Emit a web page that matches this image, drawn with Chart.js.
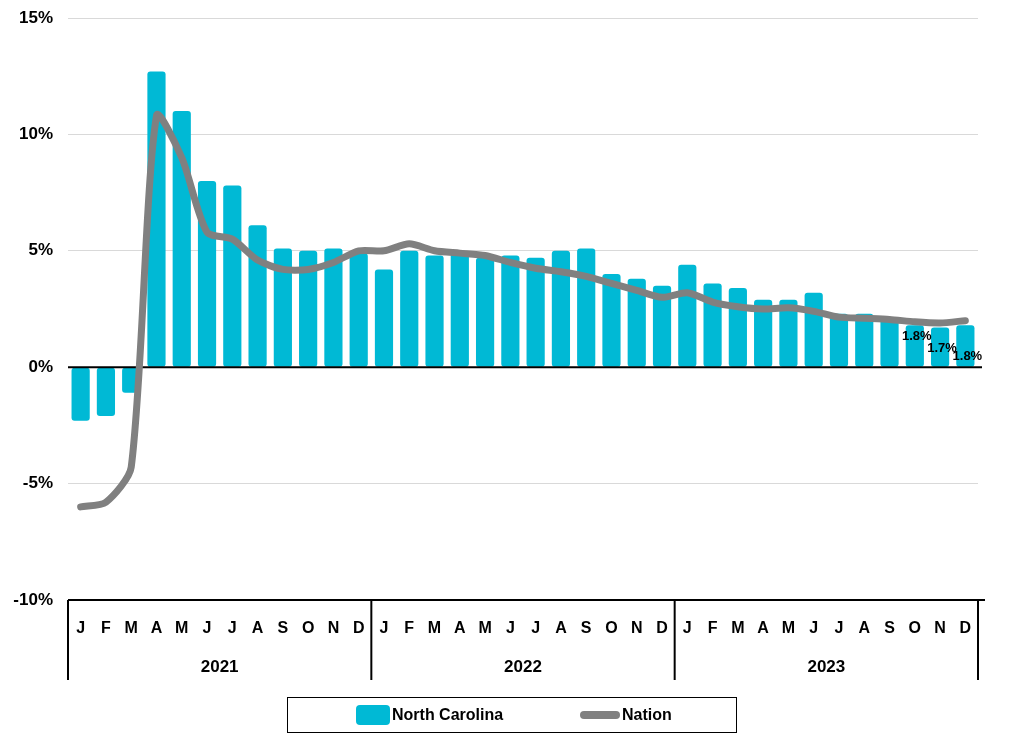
<!DOCTYPE html>
<html>
<head>
<meta charset="utf-8">
<script src="https://cdn.jsdelivr.net/npm/chart.js@4.4.1/dist/chart.umd.min.js"></script>
<style>
  html, body { margin: 0; padding: 0; background: #fff; }
  #wrap { position: relative; width: 1024px; height: 743px; }
  #legend { position: absolute; left: 287px; top: 697px; width: 448px; height: 34px;
            border: 1.5px solid #000; font-family: 'Liberation Sans Narrow', 'Liberation Sans', sans-serif;
            font-weight: bold; font-size: 16px; color: #000; }
  .item { position: absolute; top: 0; height: 34px; display: flex; align-items: center; }
  .sw1 { width: 34px; height: 20px; background: #00B9D5; border-radius: 4px; margin-right: 2px; }
  .sw2 { width: 40px; height: 8px; background: #808080; border-radius: 4px; margin-right: 2px; }
</style>
</head>
<body>
<div id="wrap">
  <canvas id="c" width="1024" height="743"></canvas>
  <div id="legend">
    <div class="item" style="left:68px"><div class="sw1"></div><span>North Carolina</span></div>
    <div class="item" style="left:292px"><div class="sw2"></div><span>Nation</span></div>
  </div>
</div>
<script>
const months = ['J','F','M','A','M','J','J','A','S','O','N','D'];
const years = ['2021','2022','2023'];
const yTicks = [-10, -5, 0, 5, 10, 15];
const northCarolina = [-2.3,-2.1,-1.1,12.7,11.0,8.0,7.8,6.1,5.1,5.0,5.1,4.9,
                       4.2,5.0,4.8,4.9,4.7,4.8,4.7,5.0,5.1,4.0,3.8,3.5,
                       4.4,3.6,3.4,2.9,2.9,3.2,2.3,2.3,2.1,1.8,1.7,1.8];
const nation = [-6.0,-5.8,-4.3,10.8,9.0,5.8,5.5,4.6,4.2,4.2,4.5,5.0,
                5.0,5.3,5.0,4.9,4.8,4.5,4.25,4.1,3.9,3.6,3.3,3.0,
                3.2,2.8,2.6,2.5,2.55,2.4,2.15,2.1,2.05,1.95,1.9,2.0];
// labels shown on the last three North Carolina bars
const barLabels = ['1.8%','1.7%','1.8%'];

const categories = [];
years.forEach(y => months.forEach(m => categories.push(m + ' ' + y)));

const FONT = "'Liberation Sans Narrow', 'Liberation Sans', sans-serif";

const customPlugin = {
  id: 'custom',
  afterDatasetDraw(chart, args) {
    if (args.meta.type !== 'bar') return;
    const ctx = chart.ctx, y = chart.scales.y, a = chart.chartArea;
    const y0 = y.getPixelForValue(0);
    ctx.save();
    ctx.strokeStyle = '#000'; ctx.lineWidth = 2;
    ctx.beginPath(); ctx.moveTo(a.left, y0); ctx.lineTo(a.right + 4, y0); ctx.stroke();
    ctx.restore();
  },
  afterDatasetsDraw(chart) {
    const ctx = chart.ctx;
    const meta = chart.getDatasetMeta(1);
    const n = northCarolina.length;
    ctx.save();
    ctx.font = "bold 13px " + FONT;
    ctx.fillStyle = '#000'; ctx.textAlign = 'center'; ctx.textBaseline = 'middle';
    barLabels.forEach((t, k) => {
      const el = meta.data[n - barLabels.length + k];
      ctx.fillText(t, el.x + 2, el.y + 11 + k * 10);
    });
    ctx.restore();
  },
  afterDraw(chart) {
    const ctx = chart.ctx, x = chart.scales.x, a = chart.chartArea;
    ctx.save();
    ctx.strokeStyle = '#000'; ctx.lineWidth = 2;
    ctx.beginPath(); ctx.moveTo(a.left, a.bottom); ctx.lineTo(a.right + 7, a.bottom); ctx.stroke();
    const step = (x.getPixelForValue(1) - x.getPixelForValue(0));
    const bounds = [];
    for (let i = 0; i <= years.length; i++) {
      bounds.push(x.getPixelForValue(i * months.length) - step / 2);
    }
    bounds.forEach(bx => {
      ctx.beginPath(); ctx.moveTo(bx, a.bottom); ctx.lineTo(bx, a.bottom + 80); ctx.stroke();
    });
    ctx.fillStyle = '#000'; ctx.textAlign = 'center'; ctx.textBaseline = 'middle';
    ctx.font = "bold 16px " + FONT;
    categories.forEach((c, i) => {
      ctx.fillText(months[i % months.length], x.getPixelForValue(i), a.bottom + 29);
    });
    ctx.font = "bold 17px " + FONT;
    years.forEach((yr, j) => {
      ctx.fillText(yr, (bounds[j] + bounds[j + 1]) / 2, a.bottom + 67);
    });
    ctx.restore();
  }
};

new Chart(document.getElementById('c'), {
  type: 'bar',
  data: {
    labels: categories,
    datasets: [
      {
        type: 'line', label: 'Nation', data: nation, order: 1,
        borderColor: '#808080', borderWidth: 7, pointRadius: 0, tension: 0.25,
        borderCapStyle: 'round', borderJoinStyle: 'round', fill: false
      },
      {
        type: 'bar', label: 'North Carolina', data: northCarolina, order: 2,
        backgroundColor: '#00B9D5', borderRadius: 3, borderSkipped: false,
        barPercentage: 0.72, categoryPercentage: 1.0
      }
    ]
  },
  options: {
    responsive: false, animation: false,
    devicePixelRatio: 1,
    layout: { padding: { top: 18, right: 46, bottom: 143, left: 0 } },
    plugins: { legend: { display: false }, tooltip: { enabled: false } },
    scales: {
      x: {
        display: true,
        grid: { display: false, drawTicks: false },
        border: { display: false },
        ticks: { display: false },
        afterFit(s) { s.height = 0; }
      },
      y: {
        min: -10, max: 15,
        afterBuildTicks(s) { s.ticks = yTicks.map(v => ({ value: v })); },
        afterFit(s) { s.width = 68; s.paddingTop = 0; s.paddingBottom = 0; },
        border: { display: false },
        grid: {
          drawTicks: false,
          color: c => (c.tick && (c.tick.value === 0 || c.tick.value === -10)) ? 'rgba(0,0,0,0)' : '#d9d9d9',
          lineWidth: 1
        },
        ticks: {
          padding: 15, color: '#000',
          font: { family: FONT, size: 17, weight: 'bold' },
          callback: v => v + '%'
        }
      }
    }
  },
  plugins: [customPlugin]
});
</script>
</body>
</html>
